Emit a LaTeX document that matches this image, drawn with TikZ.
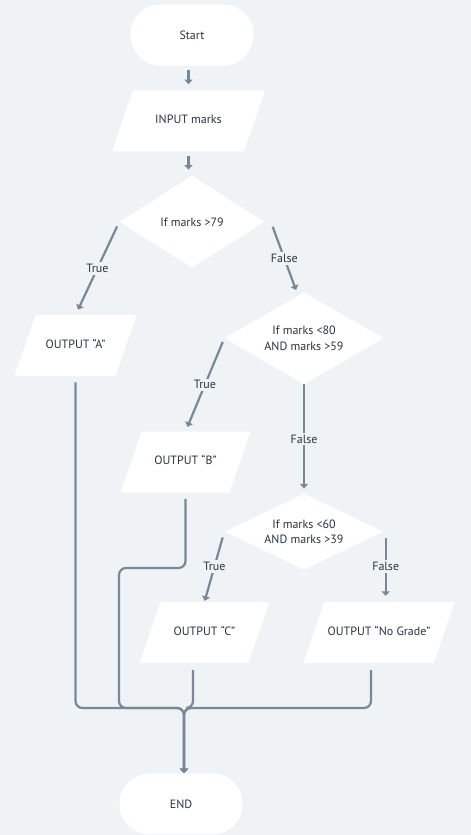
\documentclass[tikz,border=0pt]{standalone}
\usepackage{fontspec}
\setmainfont{PT Sans}
\usetikzlibrary{shapes.geometric, arrows.meta, positioning, calc}
\definecolor{pagebg}{RGB}{239,243,246}
\definecolor{slateline}{RGB}{120,136,152}
\definecolor{inkdark}{RGB}{44,52,64}

\begin{document}
\begin{tikzpicture}[
        x=1pt, y=-1pt,
        font=\fontsize{12}{16}\selectfont, text=inkdark,
        terminal/.style={rectangle, fill=white, rounded corners=30pt, minimum width=123pt, minimum height=61pt, align=center},
        io/.style={trapezium, trapezium left angle=71, trapezium right angle=109, trapezium stretches body=true, fill=white, text height=8pt, text depth=3pt, inner ysep=25pt, align=center},
        decision/.style={diamond, fill=white, inner sep=0pt, align=center},
        flow/.style={draw=slateline, line width=2.2pt, -{Triangle[length=4.5pt, width=8pt]}},
        mergeline/.style={flow, rounded corners=7pt},
        branch/.style={fill=pagebg, inner sep=2pt, text=inkdark}
    ]
        \fill[pagebg] (0,0) rectangle (471,835);

        \node[terminal] (start) at (192,35) {Start};
        \node[io, minimum width=153pt, below=24.5pt of start, xshift=-3.5pt] (input) {INPUT marks};
        \node[decision, minimum width=145pt, minimum height=92pt, shape aspect=1.58, below=24pt of input, xshift=3.5pt] (dec1) {If marks >79};
        \node[io, minimum width=122pt, below=47pt of dec1, xshift=-116.5pt] (outA) {OUTPUT “A”};
        \node[decision, minimum width=159pt, minimum height=92pt, shape aspect=1.73, below=24pt of dec1, xshift=112pt] (dec2) {If marks <80\\AND marks >59};
        \node[io, minimum width=130pt, below=47pt of dec2, xshift=-118.5pt] (outB) {OUTPUT “B”};
        \node[decision, minimum width=159pt, minimum height=76pt, shape aspect=2.09, font=\fontsize{12}{15}\selectfont, below=109pt of dec2] (dec3) {If marks <60\\AND marks >39};
        \node[io, minimum width=130pt, below=32pt of dec3, xshift=-99.5pt] (outC) {OUTPUT “C”};
        \node[io, minimum width=149pt, below=32pt of dec3, xshift=75pt] (outN) {OUTPUT “No Grade”};
        \node[terminal, below=110pt of outC, xshift=-23.5pt] (stop) {END};

        \coordinate (merge) at (184,708);
        \coordinate (bendB) at (119,568);

        \draw[flow, shorten <=4.5pt, shorten >=6pt] (start.south -| input.north) -- (input.north);
        \draw[flow, shorten <=4pt, shorten >=6pt] (input.south) -- (input.south |- dec1.north);

        \draw[flow, shorten <=5pt, shorten >=6pt] (dec1.west) -- node[branch] {True} (outA.north);
        \draw[flow] ($(dec1.east)+(8,5)$) -- node[branch] {False} ($(dec2.north)+(-8,-2)$);

        \draw[flow, shorten <=4pt, shorten >=5pt] (dec2.west) -- node[branch] {True} (outB.north);
        \draw[flow, shorten >=5pt] (dec2.south) -- node[branch] {False} (dec3.north);

        \draw[flow, shorten <=6pt, shorten >=1pt] (dec3.west) -- node[branch] {True} (outC.north);
        \draw[flow] ($(dec3.east)+(2,6)$) -- node[branch] {False} ($(dec3.east |- outN.north)+(2,-6)$);

        % all outputs run into END
        \draw[mergeline, shorten <=6pt] (outA.south) -- (outA.south |- merge) -- (merge) -- (merge |- stop.north);
        \draw[mergeline, shorten <=6pt] (outB.south) |- (bendB) -- (bendB |- merge) -- (merge) -- (merge |- stop.north);
        \draw[mergeline, shorten <=7pt] ([xshift=-11.5pt]outC.south) -- ([xshift=-11.5pt]outC.south |- merge) -- (merge) -- (merge |- stop.north);
        \draw[mergeline, shorten <=7pt] ([xshift=-8pt]outN.south) -- ([xshift=-8pt]outN.south |- merge) -- (merge) -- (merge |- stop.north);
    \end{tikzpicture}
\end{document}
